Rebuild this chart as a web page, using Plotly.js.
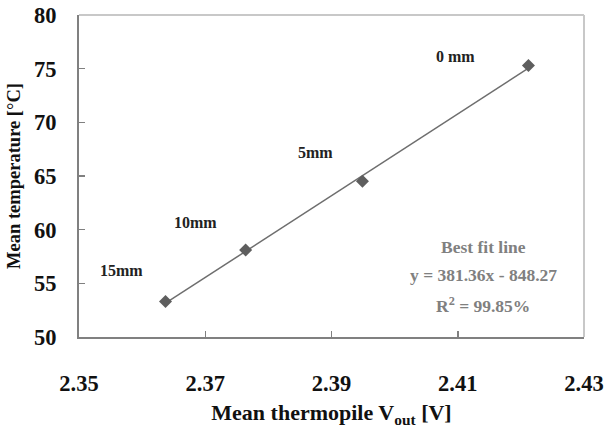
<!DOCTYPE html>
<html>
<head>
<meta charset="utf-8">
<script src="https://cdn.plot.ly/plotly-3.0.1.min.js"></script>
<style>html,body{margin:0;padding:0;background:#fff;}#chart{width:610px;height:428px;}</style>
</head>
<body>
<div id="chart"></div>
<script>
const voltage = [2.3637, 2.3764, 2.3949, 2.4212];
const temperature = [53.3, 58.1, 64.5, 75.3];
const distanceLabels = ["15mm", "10mm", "5mm", "0 mm"];
const labelX = [2.3568, 2.3684, 2.3875, 2.4097];
const labelY = [56.2, 60.7, 67.2, 76.1];
const fitText = ["Best fit line", "y = 381.36x - 848.27", "R<sup>2</sup> = 99.85%"];
const fitTextY = [58.4, 55.8, 53.0];
const xTicks = [2.35, 2.37, 2.39, 2.41, 2.43];
const yTicks = [50, 55, 60, 65, 70, 75, 80];

// least-squares fit of the data for the drawn line
const n = voltage.length;
const mx = voltage.reduce((a, b) => a + b, 0) / n;
const my = temperature.reduce((a, b) => a + b, 0) / n;
let sxy = 0, sxx = 0;
for (let i = 0; i < n; i++) { sxy += (voltage[i] - mx) * (temperature[i] - my); sxx += (voltage[i] - mx) ** 2; }
const slope = sxy / sxx, intercept = my - slope * mx;
const fitX = [voltage[0], voltage[n - 1]];
const fitY = fitX.map(v => slope * v + intercept);

const serif = "Liberation Serif, Times New Roman, serif";
const traces = [
  { x: fitX, y: fitY, mode: "lines", line: { color: "#6e6e6e", width: 1.5 }, hoverinfo: "skip" },
  { x: voltage, y: temperature, mode: "markers", marker: { symbol: "diamond", size: 10, color: "#5e5e5e" } }
];
const annotations = distanceLabels.map((t, i) => ({
  x: labelX[i], y: labelY[i], text: "<b>" + t + "</b>", showarrow: false,
  font: { family: serif, size: 16, color: "#222" }
})).concat(fitText.map((t, i) => ({
  x: 2.414, y: fitTextY[i], text: "<b>" + t + "</b>", showarrow: false,
  font: { family: serif, size: 17.5, color: "#808080" }
})));

const layout = {
  width: 610, height: 428,
  margin: { l: 79, r: 26, t: 15, b: 91 },
  paper_bgcolor: "#fff", plot_bgcolor: "#fff",
  showlegend: false,
  xaxis: {
    range: [2.35, 2.43], tickvals: xTicks, ticktext: xTicks.map(v => "<b>" + v.toFixed(2) + "</b>"),
    showgrid: false, zeroline: false, showline: true, linecolor: "#808080", linewidth: 2,
    ticks: "inside", ticklen: 6, tickcolor: "#808080", tickwidth: 1.5,
    ticklabelstandoff: 25,
    tickfont: { family: serif, size: 22.5, color: "#111" },
    title: { text: "<b>Mean thermopile V<sub>out</sub> [V]</b>", font: { family: serif, size: 22, color: "#111" }, standoff: 12 }
  },
  yaxis: {
    range: [50, 80], tickvals: yTicks, ticktext: yTicks.map(v => "<b>" + v + "</b>"),
    showgrid: false, zeroline: false, showline: true, linecolor: "#808080", linewidth: 2,
    ticks: "inside", ticklen: 6, tickcolor: "#808080", tickwidth: 1.5,
    ticklabelstandoff: 16,
    tickfont: { family: serif, size: 22.5, color: "#111" },
    title: { text: "<b>Mean temperature [°C]</b>", font: { family: serif, size: 18.5, color: "#111" }, standoff: 9 }
  },
  shapes: [
    { type: "line", xref: "paper", yref: "paper", x0: 0, x1: 1, y0: 1, y1: 1, line: { color: "#c8c8c8", width: 2 } },
    { type: "line", xref: "paper", yref: "paper", x0: 1, x1: 1, y0: 0, y1: 1, line: { color: "#c8c8c8", width: 2 } }
  ],
  annotations: annotations
};
Plotly.newPlot("chart", traces, layout, { displayModeBar: false, staticPlot: true });
</script>
</body>
</html>
